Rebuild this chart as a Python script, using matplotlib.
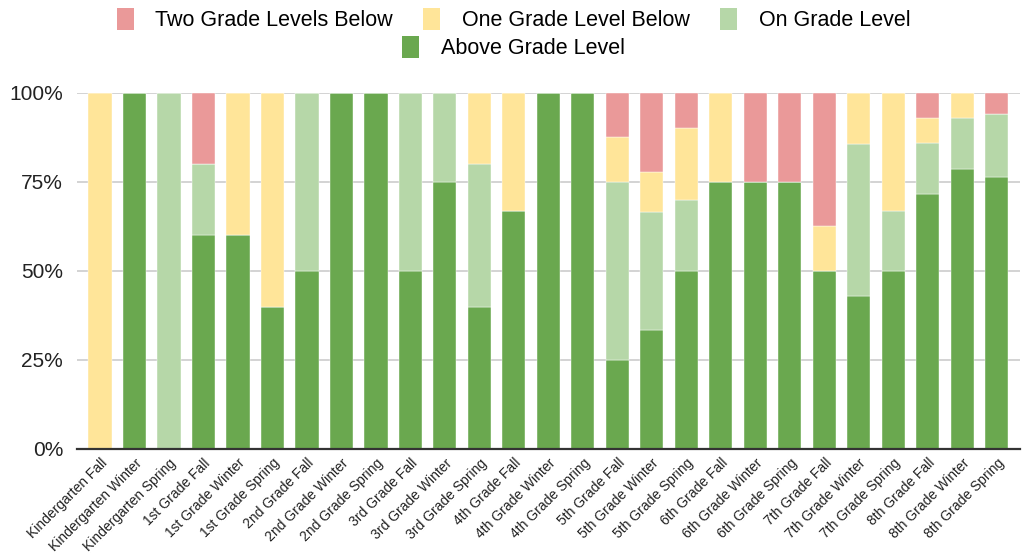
import numpy as np
import matplotlib.pyplot as plt
from matplotlib.patches import Patch

plt.rcParams['font.family'] = ['Liberation Sans', 'DejaVu Sans']

categories = [
    'Kindergarten Fall', 'Kindergarten Winter', 'Kindergarten Spring',
    '1st Grade Fall', '1st Grade Winter', '1st Grade Spring',
    '2nd Grade Fall', '2nd Grade Winter', '2nd Grade Spring',
    '3rd Grade Fall', '3rd Grade Winter', '3rd Grade Spring',
    '4th Grade Fall', '4th Grade Winter', '4th Grade Spring',
    '5th Grade Fall', '5th Grade Winter', '5th Grade Spring',
    '6th Grade Fall', '6th Grade Winter', '6th Grade Spring',
    '7th Grade Fall', '7th Grade Winter', '7th Grade Spring',
    '8th Grade Fall', '8th Grade Winter', '8th Grade Spring',
]

# shares in percent
above = [0, 100, 0, 60, 60, 40, 50, 100, 100, 50, 75, 40, 66.7, 100, 100,
         25, 33.3, 50, 75, 75, 75, 50, 42.9, 50, 71.4, 78.6, 76.5]
on_level = [0, 0, 100, 20, 0, 0, 50, 0, 0, 50, 25, 40, 0, 0, 0,
            50, 33.3, 20, 0, 0, 0, 0, 42.9, 16.7, 14.3, 14.3, 17.6]
one_below = [100, 0, 0, 0, 40, 60, 0, 0, 0, 0, 0, 20, 33.3, 0, 0,
             12.5, 11.1, 20, 25, 0, 0, 12.5, 14.3, 33.3, 7.1, 7.1, 0]
two_below = [0, 0, 0, 20, 0, 0, 0, 0, 0, 0, 0, 0, 0, 0, 0,
             12.5, 22.2, 10, 0, 25, 25, 37.5, 0, 0, 7.1, 0, 5.9]

series = [
    ('Above Grade Level', above, '#6aa84f'),
    ('On Grade Level', on_level, '#b6d7a8'),
    ('One Grade Level Below', one_below, '#ffe599'),
    ('Two Grade Levels Below', two_below, '#ea9999'),
]

fig = plt.figure(figsize=(10.27, 5.56), dpi=100)
ax = fig.add_axes([0.075, 0.1925, 0.918, 0.6405])

x = np.arange(len(categories))
totals = np.sum([np.array(s[1]) for s in series], axis=0)
bottom = np.zeros(len(categories))
for name, vals, color in series:
    v = np.array(vals) / totals
    ax.bar(x, v, width=0.67, bottom=bottom, color=color, label=name,
           edgecolor='white', linewidth=0.3, zorder=2)
    bottom += v

ax.set_xlim(-0.667, len(categories) - 0.333)
ax.set_ylim(0, 1)
ax.set_yticks([0, 0.25, 0.5, 0.75, 1.0])
ax.set_yticklabels(['0%', '25%', '50%', '75%', '100%'], fontsize=15, color='#222222')
ax.yaxis.grid(True, color='#cccccc', linewidth=1.2, zorder=0)
ax.tick_params(axis='y', length=0, pad=10)
ax.tick_params(axis='x', length=0, pad=5)
ax.set_xticks(x)
ax.set_xticklabels(categories, rotation=45, ha='right', rotation_mode='anchor',
                   fontsize=10, color='#222222')
for s in ['top', 'right', 'left']:
    ax.spines[s].set_visible(False)
ax.spines['bottom'].set_color('#333333')
ax.spines['bottom'].set_linewidth(1.6)
ax.spines['bottom'].set_zorder(3)

# legend: three items on the first row, one centred below
row1 = [Patch(facecolor='#ea9999', label='Two Grade Levels Below'),
        Patch(facecolor='#ffe599', label='One Grade Level Below'),
        Patch(facecolor='#b6d7a8', label='On Grade Level')]
row2 = [Patch(facecolor='#6aa84f', label='Above Grade Level')]
leg1 = fig.legend(handles=row1, loc='center', bbox_to_anchor=(0.5, 0.965), ncol=3,
                  frameon=False, fontsize=15.5, handlelength=0.8, handleheight=1.2,
                  handletextpad=1.0, columnspacing=1.4)
leg2 = fig.legend(handles=row2, loc='center', bbox_to_anchor=(0.5, 0.915), ncol=1,
                  frameon=False, fontsize=15.5, handlelength=0.8, handleheight=1.2,
                  handletextpad=1.0)

fig.savefig('out.png', dpi=100)
